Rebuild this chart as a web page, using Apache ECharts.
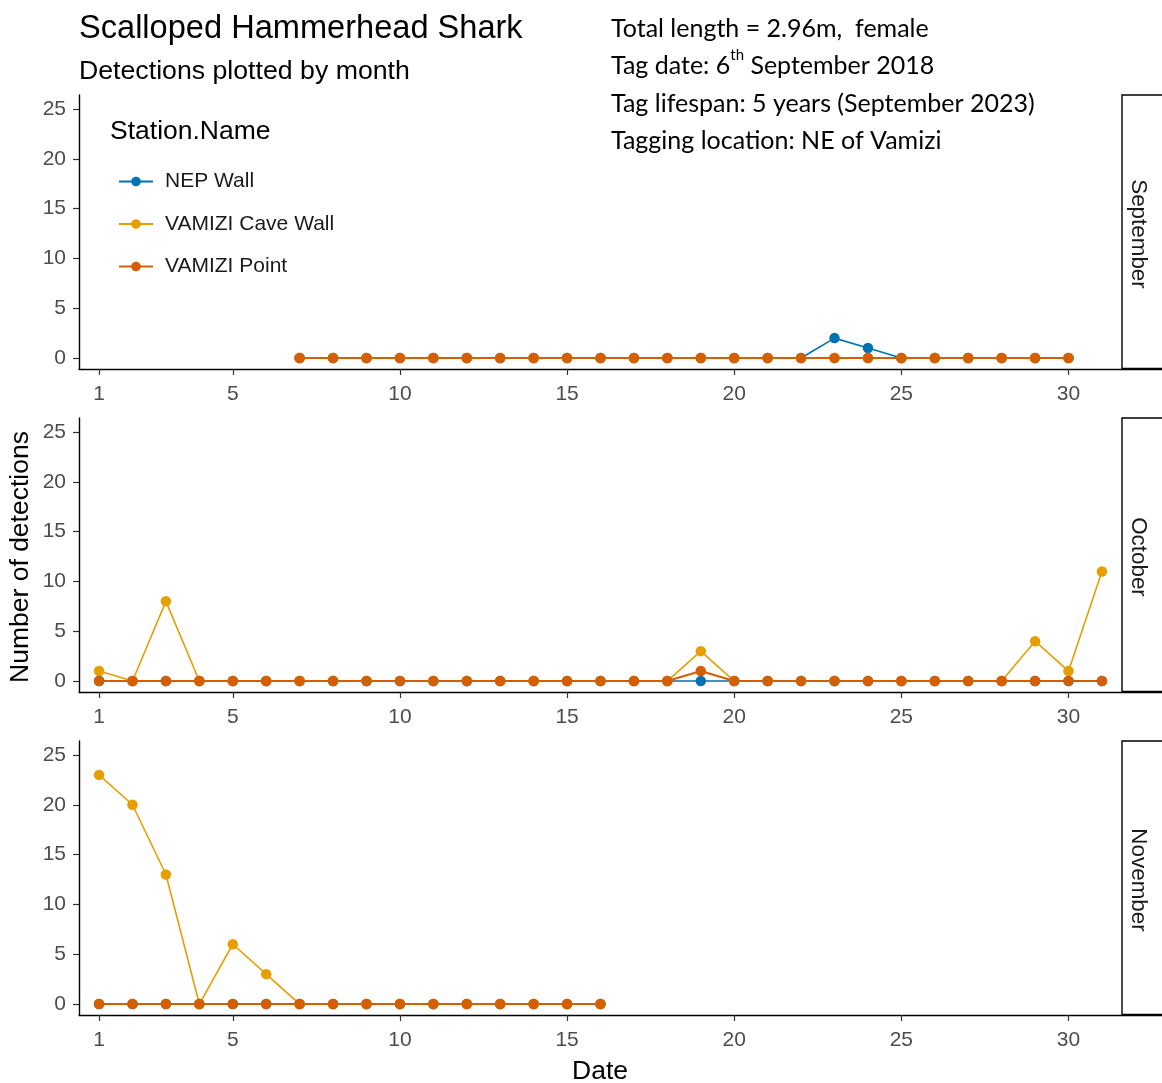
<!DOCTYPE html>
<html>
<head>
<meta charset="utf-8">
<title>Scalloped Hammerhead Shark – detections by month</title>
<script src="https://cdn.jsdelivr.net/npm/echarts@6/dist/echarts.min.js"></script>
<style>
  html, body { margin: 0; padding: 0; background: #ffffff; }
  #chart { width: 1162px; height: 1083px; }
</style>
</head>
<body>
<div id="chart"></div>
<script>
// ---- data -------------------------------------------------------------
const stations = ['NEP Wall', 'VAMIZI Cave Wall', 'VAMIZI Point'];
const stationColors = ['#0072B2', '#E69F00', '#D55E00'];
const months = ['September', 'October', 'November'];

const xTicks = [1, 5, 10, 15, 20, 25, 30];
const yTicks = [0, 5, 10, 15, 20, 25];

// September (tagged on the 6th, detections from the 7th)
const sepDays  = [7, 8, 9, 10, 11, 12, 13, 14, 15, 16, 17, 18, 19, 20, 21, 22, 23, 24, 25, 26, 27, 28, 29, 30];
const sepNEP   = [0, 0, 0, 0, 0, 0, 0, 0, 0, 0, 0, 0, 0, 0, 0, 0, 2, 1, 0, 0, 0, 0, 0, 0];
const sepCave  = [0, 0, 0, 0, 0, 0, 0, 0, 0, 0, 0, 0, 0, 0, 0, 0, 0, 0, 0, 0, 0, 0, 0, 0];
const sepPoint = [0, 0, 0, 0, 0, 0, 0, 0, 0, 0, 0, 0, 0, 0, 0, 0, 0, 0, 0, 0, 0, 0, 0, 0];

// October
const octDays  = [1, 2, 3, 4, 5, 6, 7, 8, 9, 10, 11, 12, 13, 14, 15, 16, 17, 18, 19, 20, 21, 22, 23, 24, 25, 26, 27, 28, 29, 30, 31];
const octNEP   = [0, 0, 0, 0, 0, 0, 0, 0, 0, 0, 0, 0, 0, 0, 0, 0, 0, 0, 0, 0, 0, 0, 0, 0, 0, 0, 0, 0, 0, 0, 0];
const octCave  = [1, 0, 8, 0, 0, 0, 0, 0, 0, 0, 0, 0, 0, 0, 0, 0, 0, 0, 3, 0, 0, 0, 0, 0, 0, 0, 0, 0, 4, 1, 11];
const octPoint = [0, 0, 0, 0, 0, 0, 0, 0, 0, 0, 0, 0, 0, 0, 0, 0, 0, 0, 1, 0, 0, 0, 0, 0, 0, 0, 0, 0, 0, 0, 0];

// November
const novDays  = [1, 2, 3, 4, 5, 6, 7, 8, 9, 10, 11, 12, 13, 14, 15, 16];
const novNEP   = [0, 0, 0, 0, 0, 0, 0, 0, 0, 0, 0, 0, 0, 0, 0, 0];
const novCave  = [23, 20, 13, 0, 6, 3, 0, 0, 0, 0, 0, 0, 0, 0, 0, 0];
const novPoint = [0, 0, 0, 0, 0, 0, 0, 0, 0, 0, 0, 0, 0, 0, 0, 0];

const panels = [
  { days: sepDays, values: [sepNEP, sepCave, sepPoint] },
  { days: octDays, values: [octNEP, octCave, octPoint] },
  { days: novDays, values: [novNEP, novCave, novPoint] }
];

// ---- layout -----------------------------------------------------------
const FONT = '"Liberation Sans", Arial, sans-serif';
const NOTE_FONT = 'Lato, "Open Sans", sans-serif';
const plotLeft = 79, plotRight = 1122, panelH = 274;
const panelTops = [95, 418, 741];
const stripW = 60;

const grids = [], xAxes = [], yAxes = [], series = [], graphics = [];

panels.forEach((p, k) => {
  grids.push({ left: plotLeft, top: panelTops[k], width: plotRight - plotLeft, height: panelH });
  xAxes.push({
    type: 'value', gridIndex: k, min: 0.4, max: 31.6,
    splitLine: { show: false },
    axisLine: { show: true, onZero: false, lineStyle: { color: '#000', width: 1.4 } },
    axisTick: { show: true, customValues: xTicks, length: 6, lineStyle: { color: '#333', width: 1.2 } },
    axisLabel: { customValues: xTicks, margin: 15, color: '#4D4D4D', fontSize: 21, fontFamily: FONT }
  });
  yAxes.push({
    type: 'value', gridIndex: k, min: -1.1, max: 26.4,
    splitLine: { show: false },
    axisLine: { show: true, onZero: false, lineStyle: { color: '#000', width: 1.4 } },
    axisTick: { show: true, customValues: yTicks, length: 6, lineStyle: { color: '#333', width: 1.2 } },
    axisLabel: { customValues: yTicks, margin: 13, color: '#4D4D4D', fontSize: 21, fontFamily: FONT }
  });
  stations.forEach((name, s) => {
    series.push({
      name: name, type: 'line', xAxisIndex: k, yAxisIndex: k,
      data: p.days.map((d, i) => [d, p.values[s][i]]),
      symbol: 'circle', symbolSize: 10.5, showSymbol: true,
      lineStyle: { color: stationColors[s], width: s === 2 ? 2 : 1.6 },
      itemStyle: { color: stationColors[s] },
      emphasis: { disabled: true },
      animation: false
    });
  });
  // facet strip on the right of each panel
  graphics.push({
    type: 'rect', shape: { x: plotRight, y: panelTops[k], width: stripW, height: panelH },
    style: { fill: '#ffffff', stroke: '#000', lineWidth: 1.4 }, z: 10
  });
  graphics.push({
    type: 'line', shape: { x1: plotRight, y1: panelTops[k] + panelH, x2: 1162, y2: panelTops[k] + panelH },
    style: { stroke: '#000', lineWidth: 2.6 }, z: 11
  });
  graphics.push({
    type: 'text', x: plotRight + 16, y: panelTops[k] + panelH / 2 + 2, rotation: -Math.PI / 2,
    style: { text: months[k], fill: '#1A1A1A', font: '22.4px ' + FONT, align: 'center', verticalAlign: 'middle' }, z: 12
  });
});

// titles and axis titles
graphics.push(
  { type: 'text', left: 79, top: 13, style: { text: 'Scalloped Hammerhead Shark', fill: '#000', font: '32.6px ' + FONT } },
  { type: 'text', left: 79, top: 58, style: { text: 'Detections plotted by month', fill: '#000', font: '26.7px ' + FONT } },
  { type: 'text', x: 21, y: 557, rotation: Math.PI / 2,
    style: { text: 'Number of detections', fill: '#000', font: '26.5px ' + FONT, align: 'center', verticalAlign: 'middle' } },
  { type: 'text', x: 600, y: 1072,
    style: { text: 'Date', fill: '#000', font: '26.5px ' + FONT, align: 'center', verticalAlign: 'middle' } },
  { type: 'text', x: 110, y: 132,
    style: { text: 'Station.Name', fill: '#000', font: '26.5px ' + FONT, align: 'left', verticalAlign: 'middle' } }
);

// tag information notes
const noteLines = [
  '{a|Total length = 2.96m,  female}',
  '{a|Tag date: 6}{s|th}{a| September 2018}',
  '{a|Tag lifespan: 5 years (September 2023)}',
  '{a|Tagging location: NE of Vamizi}'
];
const noteY = [26, 63, 101, 138];
noteLines.forEach((t, i) => {
  graphics.push({
    type: 'text', x: 611, y: noteY[i],
    style: {
      text: t, align: 'left', verticalAlign: 'middle',
      rich: {
        a: { fontFamily: NOTE_FONT, fontSize: 25, fill: '#000', lineHeight: 30, verticalAlign: 'bottom' },
        s: { fontFamily: NOTE_FONT, fontSize: 15, fill: '#000', lineHeight: 15, verticalAlign: 'top' }
      }
    }
  });
});

const chart = echarts.init(document.getElementById('chart'), null, { renderer: 'canvas' });
chart.setOption({
  backgroundColor: '#ffffff',
  animation: false,
  grid: grids,
  xAxis: xAxes,
  yAxis: yAxes,
  series: series,
  legend: {
    data: stations, orient: 'vertical', left: 113, top: 166,
    itemWidth: 34, itemHeight: 12, itemGap: 21.5,
    textStyle: { fontSize: 21, color: '#1A1A1A', fontFamily: FONT, padding: [0, 0, 0, 7] },
    selectedMode: false
  },
  graphic: graphics
});
</script>
</body>
</html>
